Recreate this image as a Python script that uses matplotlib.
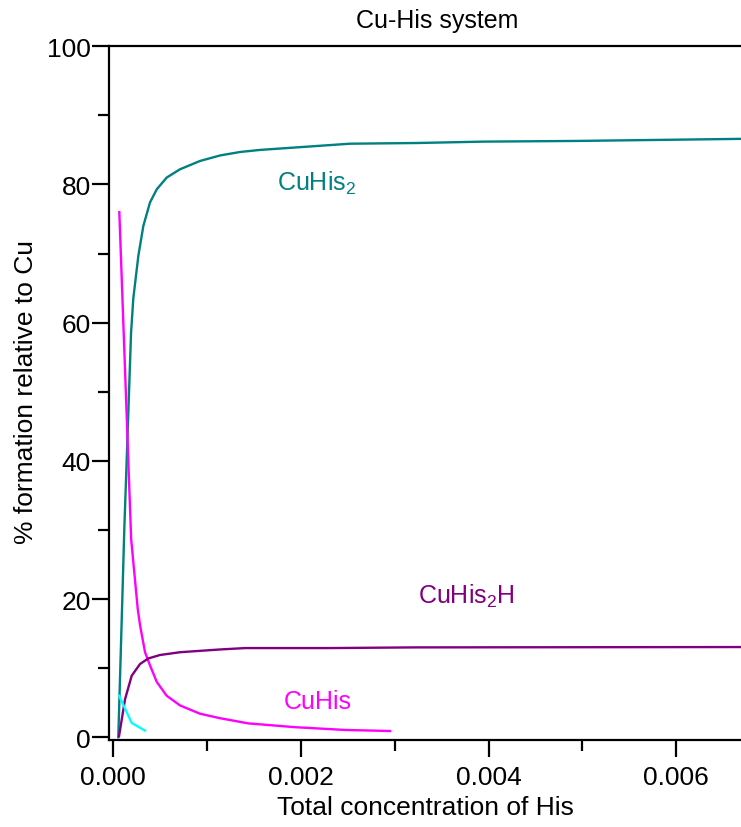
import numpy as np
import matplotlib
matplotlib.use('Agg')
import matplotlib.pyplot as plt
from matplotlib.ticker import MultipleLocator, FormatStrFormatter

plt.rcParams['font.family'] = ['Liberation Sans', 'DejaVu Sans']
plt.rcParams['mathtext.default'] = 'regular'

# data
x_cuhis2 = [0.000053, 0.000093, 0.000117, 0.000154, 0.000189, 0.000213, 0.000267,
            0.00032, 0.000391, 0.000463, 0.000569, 0.000711, 0.000924, 0.001138,
            0.001351, 0.001564, 0.00199, 0.002523, 0.003235, 0.003941, 0.00494, 0.00669]
y_cuhis2 = [0.0, 18.6, 30.1, 44.6, 58.5, 63.5, 69.7, 74.0, 77.4, 79.3, 81.0, 82.2,
            83.4, 84.2, 84.7, 85.0, 85.4, 85.9, 86.0, 86.2, 86.3, 86.6]

x_cuhis = [0.000064, 0.00019, 0.00026, 0.000285, 0.000338, 0.000391, 0.000463,
           0.000569, 0.000711, 0.000924, 0.001138, 0.001439, 0.001937, 0.00247, 0.00295]
y_cuhis = [76.0, 28.7, 18.6, 16.2, 12.3, 10.4, 8.0, 6.0, 4.6, 3.4, 2.75, 2.0, 1.45, 1.05, 0.9]

x_cuhis2h = [0.000061, 0.000125, 0.000196, 0.000285, 0.000373, 0.000498, 0.000711,
             0.000924, 0.001138, 0.001404, 0.002289, 0.003216, 0.00669]
y_cuhis2h = [0.15, 5.5, 8.9, 10.6, 11.4, 11.9, 12.3, 12.5, 12.7, 12.9, 12.9, 13.0, 13.05]

x_cu = [0.000061, 0.000196, 0.000338]
y_cu = [6.0, 2.07, 0.95]

fig = plt.figure(figsize=(7.41, 8.28), dpi=100)
ax = fig.add_axes([0.1471, 0.1051, 0.8529, 0.8378])

lw = 1.7
ax.plot(x_cuhis2, y_cuhis2, color='#008080', lw=lw)
ax.plot(x_cuhis, y_cuhis, color='#ff00ff', lw=lw)
ax.plot(x_cuhis2h, y_cuhis2h, color='#800080', lw=lw)
ax.plot(x_cu, y_cu, color='#00ffff', lw=lw)

ax.set_xlim(-0.000046, 0.00669)
ax.set_ylim(-0.4, 100)

ax.xaxis.set_major_locator(MultipleLocator(0.002))
ax.xaxis.set_minor_locator(MultipleLocator(0.001))
ax.xaxis.set_major_formatter(FormatStrFormatter('%.3f'))
ax.yaxis.set_major_locator(MultipleLocator(20))
ax.yaxis.set_minor_locator(MultipleLocator(10))
ax.yaxis.set_major_formatter(FormatStrFormatter('%d'))

ax.tick_params(which='major', length=12, width=1.6, labelsize=19, pad=6)
ax.tick_params(which='minor', length=8, width=1.6)
ax.tick_params(axis='y', which='major', pad=1)
for s in ['left', 'bottom', 'top']:
    ax.spines[s].set_linewidth(1.6)
ax.spines['right'].set_visible(False)

ax.set_xlabel('Total concentration of His', fontsize=19, labelpad=4)
ax.set_ylabel('% formation relative to Cu', fontsize=19)
ax.yaxis.set_label_coords(-0.112, 0.503)
ax.set_title('Cu-His system', fontsize=18, pad=14, x=0.519)

ax.text(0.001742, 79.3, 'CuHis$_2$', color='#008080', fontsize=18, ha='left', va='baseline')
ax.text(0.003248, 19.4, 'CuHis$_2$H', color='#800080', fontsize=18, ha='left', va='baseline')
ax.text(0.001812, 4.2, 'CuHis', color='#ff00ff', fontsize=18, ha='left', va='baseline')

fig.savefig('out.png', dpi=100)
